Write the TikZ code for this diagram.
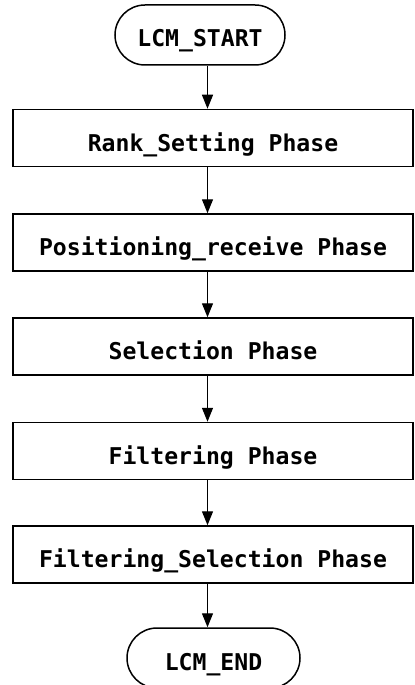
\documentclass[tikz,border=0pt]{standalone}
\usepackage{fontspec}
\setmonofont{DejaVu Sans Mono}
\usetikzlibrary{arrows.meta,shapes.misc}
\begin{document}
\begin{tikzpicture}[x=1bp,y=-1bp,
  every node/.style={font=\ttfamily\bfseries\fontsize{23.2}{28}\selectfont},
  phase/.style={draw,line width=1.5bp,minimum width=400bp,minimum height=57bp,inner sep=0pt,text height=26bp,text depth=0pt},
  term/.style={draw,line width=1.5bp,rounded rectangle,minimum width=170bp,minimum height=60bp,inner sep=0pt,text height=24bp,text depth=0pt},
  arr/.style={line width=1.3bp,-{Triangle[width=11bp,length=14bp]}}]
\useasboundingbox (0,0) rectangle (414,685);
\fill[white] (0,0) rectangle (414,685);
\node[term] (start) at (200,35) {LCM\_START};
\node[phase] (b1) at (213,138) {Rank\_Setting Phase};
\node[phase] (b2) at (213,242.5) {Positioning\_receive Phase};
\node[phase] (b3) at (213,346.5) {Selection Phase};
\node[phase] (b4) at (213,451) {Filtering Phase};
\node[phase] (b5) at (213,554.5) {Filtering\_Selection Phase};
\node[term,minimum width=173bp] (end) at (213.5,658) {LCM\_END};
\coordinate (ax) at (207.5,0);
\draw[arr] (start.south -| ax) -- (b1.north -| ax);
\draw[arr] (b1.south -| ax) -- (b2.north -| ax);
\draw[arr] (b2.south -| ax) -- (b3.north -| ax);
\draw[arr] (b3.south -| ax) -- (b4.north -| ax);
\draw[arr] (b4.south -| ax) -- (b5.north -| ax);
\draw[arr] (b5.south -| ax) -- (end.north -| ax);
\end{tikzpicture}
\end{document}
